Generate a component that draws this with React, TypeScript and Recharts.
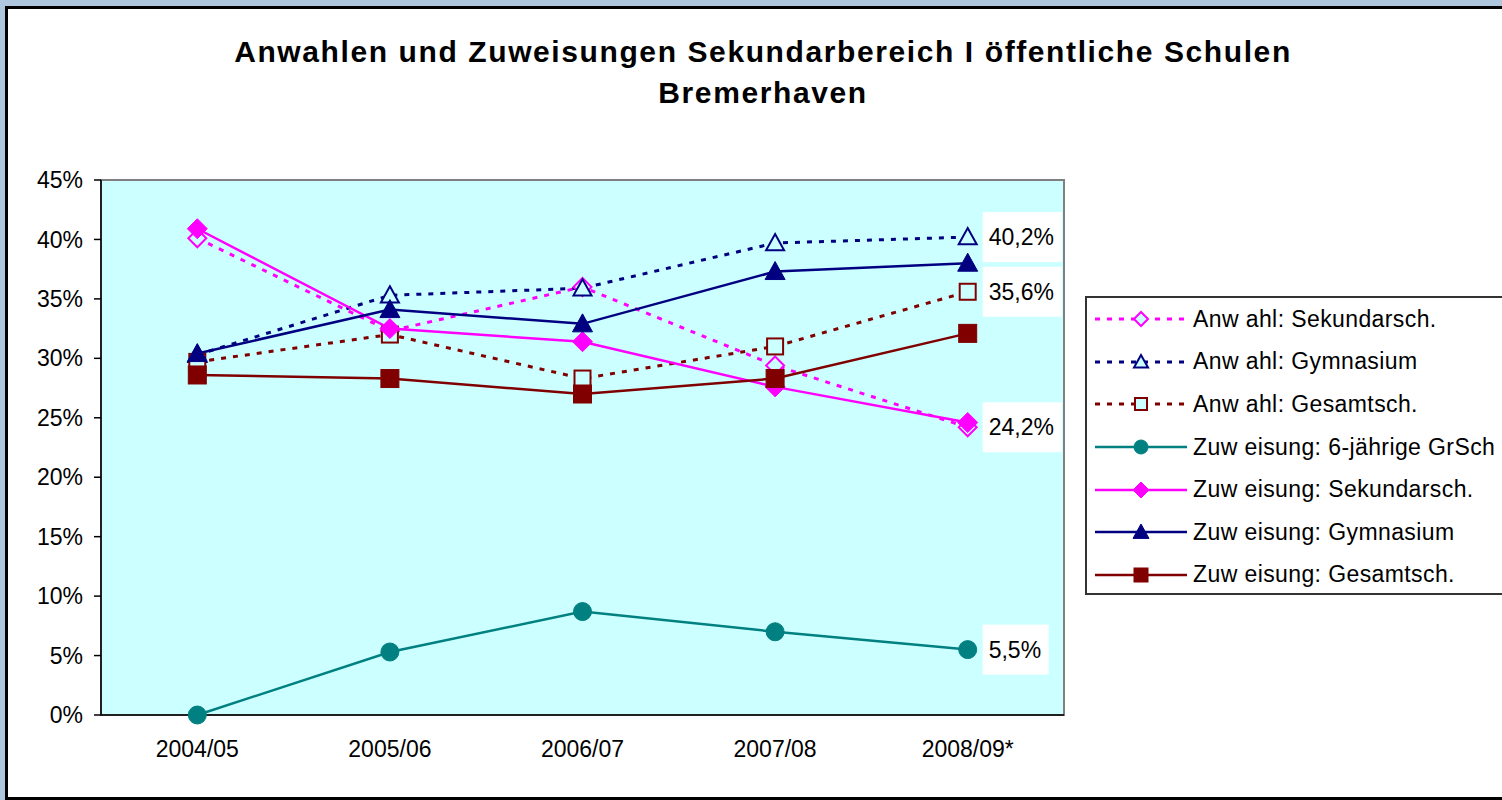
import React from "react"
import { LineChart, Line, XAxis, YAxis, ReferenceArea, LabelList } from "recharts"

const categories = ["2004/05", "2005/06", "2006/07", "2007/08", "2008/09*"]
const anwahlSek = [40.1, 32.3, 36.0, 29.4, 24.2]
const anwahlGym = [30.3, 35.3, 35.9, 39.7, 40.2]
const anwahlGes = [29.7, 32.0, 28.3, 31.0, 35.6]
const zuwGrSch = [0, 5.3, 8.7, 7.0, 5.5]
const zuwSek = [40.9, 32.5, 31.4, 27.6, 24.6]
const zuwGym = [30.4, 34.1, 32.9, 37.3, 38.0]
const zuwGes = [28.6, 28.3, 27.0, 28.3, 32.1]
const yTicks = [0, 5, 10, 15, 20, 25, 30, 35, 40, 45]

const FONT = '"Liberation Sans", Arial, sans-serif'

const data = categories.map((cat, i) => ({
  pos: i + 0.5,
  cat,
  anwSek: anwahlSek[i],
  anwGym: anwahlGym[i],
  anwGes: anwahlGes[i],
  zuwGrSch: zuwGrSch[i],
  zuwSek: zuwSek[i],
  zuwGym: zuwGym[i],
  zuwGes: zuwGes[i],
}))

type Shape = "diamond" | "triangle" | "square" | "circle"

const series: { key: string; name: string; color: string; shape: Shape; filled: boolean; dashed: boolean; label: boolean }[] = [
  { key: "anwSek", name: "Anw ahl: Sekundarsch.", color: "#ff00ff", shape: "diamond", filled: false, dashed: true, label: true },
  { key: "anwGym", name: "Anw ahl: Gymnasium", color: "#000080", shape: "triangle", filled: false, dashed: true, label: true },
  { key: "anwGes", name: "Anw ahl: Gesamtsch.", color: "#800000", shape: "square", filled: false, dashed: true, label: true },
  { key: "zuwGrSch", name: "Zuw eisung: 6-jährige GrSch", color: "#008080", shape: "circle", filled: true, dashed: false, label: true },
  { key: "zuwSek", name: "Zuw eisung: Sekundarsch.", color: "#ff00ff", shape: "diamond", filled: true, dashed: false, label: false },
  { key: "zuwGym", name: "Zuw eisung: Gymnasium", color: "#000080", shape: "triangle", filled: true, dashed: false, label: false },
  { key: "zuwGes", name: "Zuw eisung: Gesamtsch.", color: "#800000", shape: "square", filled: true, dashed: false, label: false },
]

function marker(shape: Shape, filled: boolean, color: string, cx: number, cy: number, s: number, key?: string) {
  const fill = filled ? color : "#ccffff"
  const sw = filled ? 1 : 2
  if (shape === "diamond") {
    const r = s / 2
    return <polygon key={key} points={`${cx},${cy - r} ${cx + r},${cy} ${cx},${cy + r} ${cx - r},${cy}`} fill={fill} stroke={color} strokeWidth={sw} />
  }
  if (shape === "triangle") {
    const r = s / 2
    return <polygon key={key} points={`${cx},${cy - r} ${cx + r},${cy + r * 0.8} ${cx - r},${cy + r * 0.8}`} fill={fill} stroke={color} strokeWidth={sw} />
  }
  if (shape === "square") {
    const r = s / 2 - 1
    return <rect key={key} x={cx - r} y={cy - r} width={r * 2} height={r * 2} fill={fill} stroke={color} strokeWidth={sw} />
  }
  return <circle key={key} cx={cx} cy={cy} r={s / 2 - 1} fill={fill} stroke={color} strokeWidth={sw} />
}

function EndLabel(props: any) {
  const { x, y, value, index } = props
  if (index !== categories.length - 1) return null
  const txt = String(value).replace(".", ",") + "%"
  const w = txt.length * 13 + 14
  return (
    <g>
      <rect x={x + 15} y={y - 25} width={w} height={50} fill="#ffffff" />
      <text x={x + 21} y={y + 8} fontSize={23} fontFamily={FONT} fill="#000">
        {txt}
      </text>
    </g>
  )
}

function LegendBox() {
  return (
    <div
      style={{
        position: "absolute",
        left: 1085,
        top: 296,
        width: 440,
        height: 299,
        border: "2px solid #333",
        background: "#fff",
        boxSizing: "border-box",
        fontFamily: FONT,
      }}
    >
      {series.map((s) => (
        <div key={s.key} style={{ height: 42.6, display: "flex", alignItems: "center" }}>
          <svg width={104} height={30} style={{ flex: "none" }}>
            <line
              x1={8}
              x2={100}
              y1={15}
              y2={15}
              stroke={s.color}
              strokeWidth={s.dashed ? 3 : 2.5}
              strokeDasharray={s.dashed ? "5 7" : undefined}
            />
            {marker(s.shape, s.filled, s.color, 54, 15, s.filled ? 16 : 14)}
          </svg>
          <span style={{ fontSize: 23, letterSpacing: 0.4, color: "#000", whiteSpace: "nowrap", marginLeft: 2 }}>{s.name}</span>
        </div>
      ))}
    </div>
  )
}

export default function App() {
  return (
    <div style={{ position: "absolute", left: 0, top: 0, width: 1502, height: 800, background: "#aec7df", overflow: "hidden" }}>
      <div
        style={{
          position: "absolute",
          left: 5,
          top: 6,
          width: 1510,
          height: 794,
          background: "#fff",
          borderLeft: "3px solid #000",
          borderTop: "3px solid #000",
          borderBottom: "3px solid #000",
          boxSizing: "border-box",
        }}
      />
      <div
        style={{
          position: "absolute",
          left: 0,
          top: 31,
          width: 1526,
          textAlign: "center",
          fontFamily: FONT,
          fontWeight: "bold",
          fontSize: 30,
          lineHeight: "41px",
          letterSpacing: 1.6,
          color: "#000",
        }}
      >
        Anwahlen und Zuweisungen Sekundarbereich I öffentliche Schulen
        <br />
        Bremerhaven
      </div>
      <div style={{ position: "absolute", left: 0, top: 0 }}>
        <LineChart width={1502} height={800} data={data} margin={{ top: 180, right: 438, bottom: 40, left: 41 }}>
          <XAxis
            dataKey="pos"
            type="number"
            domain={[0, categories.length]}
            ticks={categories.map((_, i) => i).concat([categories.length])}
            tick={false}
            tickSize={7}
            stroke="#000"
            strokeWidth={1.5}
            height={8}
          />
          <XAxis
            xAxisId="lab"
            dataKey="pos"
            type="number"
            domain={[0, categories.length]}
            ticks={categories.map((_, i) => i + 0.5)}
            tickFormatter={(v: number) => categories[Math.floor(v)]}
            axisLine={false}
            tickLine={false}
            tick={{ fill: "#000", fontSize: 23, fontFamily: FONT }}
            tickMargin={12}
            height={37}
          />
          <YAxis
            domain={[0, 45]}
            ticks={yTicks}
            tickFormatter={(v: number) => `${v}%`}
            stroke="#000"
            strokeWidth={1.5}
            tickSize={7}
            tickMargin={11}
            width={60}
            tick={{ fill: "#000", fontSize: 23, fontFamily: FONT }}
          />
          <ReferenceArea y1={0} y2={45} fill="#ccffff" fillOpacity={1} stroke="#808080" strokeWidth={2} />
          {series.map((s) => (
            <Line
              key={s.key}
              dataKey={s.key}
              name={s.name}
              stroke={s.color}
              strokeWidth={s.dashed ? 3 : 2.5}
              strokeDasharray={s.dashed ? "5 7" : undefined}
              isAnimationActive={false}
              dot={(p: any) => marker(s.shape, s.filled, s.color, p.cx, p.cy, s.filled ? 20 : 18, `${s.key}-${p.index}`)}
              activeDot={false}
            >
              {s.label && <LabelList dataKey={s.key} content={EndLabel} />}
            </Line>
          ))}
        </LineChart>
      </div>
      <LegendBox />
    </div>
  )
}
